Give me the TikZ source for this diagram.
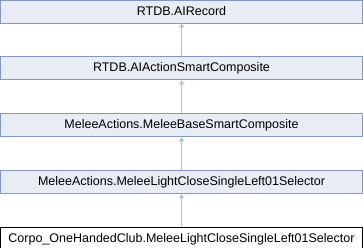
\documentclass[tikz,border=0pt]{standalone}
\usepackage{fontspec}
\setmainfont{Liberation Sans}
\usetikzlibrary{arrows.meta,positioning}
\definecolor{boxfill}{HTML}{E8ECF4}
\definecolor{boxline}{HTML}{8497C8}
\definecolor{edgeblue}{HTML}{A3C4E0}

\begin{document}
\begin{tikzpicture}[
    x=1pt, y=1pt,
    node distance=33pt,
    every node/.style={
        font=\fontsize{12.5}{14}\selectfont,
    },
    classbox/.style={
        draw=boxline, fill=boxfill, line width=0.9pt,
        minimum width=362pt, minimum height=23pt, inner sep=0pt,
    },
    leafbox/.style={
        classbox, draw=black, fill=white,
    },
    inherit/.style={
        draw=edgeblue, line width=0.8pt,
        -{Triangle[length=4pt,width=5pt]},
    },
]
    \useasboundingbox (0,0) rectangle (363,-248);
    \node[classbox] (record) at (181.5,-11.5) {RTDB.AIRecord};
    \node[classbox, below=of record] (smart) {RTDB.AIActionSmartComposite};
    \node[classbox, below=of smart] (base) {MeleeActions.MeleeBaseSmartComposite};
    \node[classbox, below=of base] (light) {MeleeActions.MeleeLightCloseSingleLeft01Selector};
    \node[leafbox, below=of light] (corpo) {Corpo\_OneHandedClub.MeleeLightCloseSingleLeft01Selector};
    \draw[inherit] (smart) -- (record);
    \draw[inherit] (base) -- (smart);
    \draw[inherit] (light) -- (base);
    \draw[inherit] (corpo) -- (light);
\end{tikzpicture}
\end{document}
